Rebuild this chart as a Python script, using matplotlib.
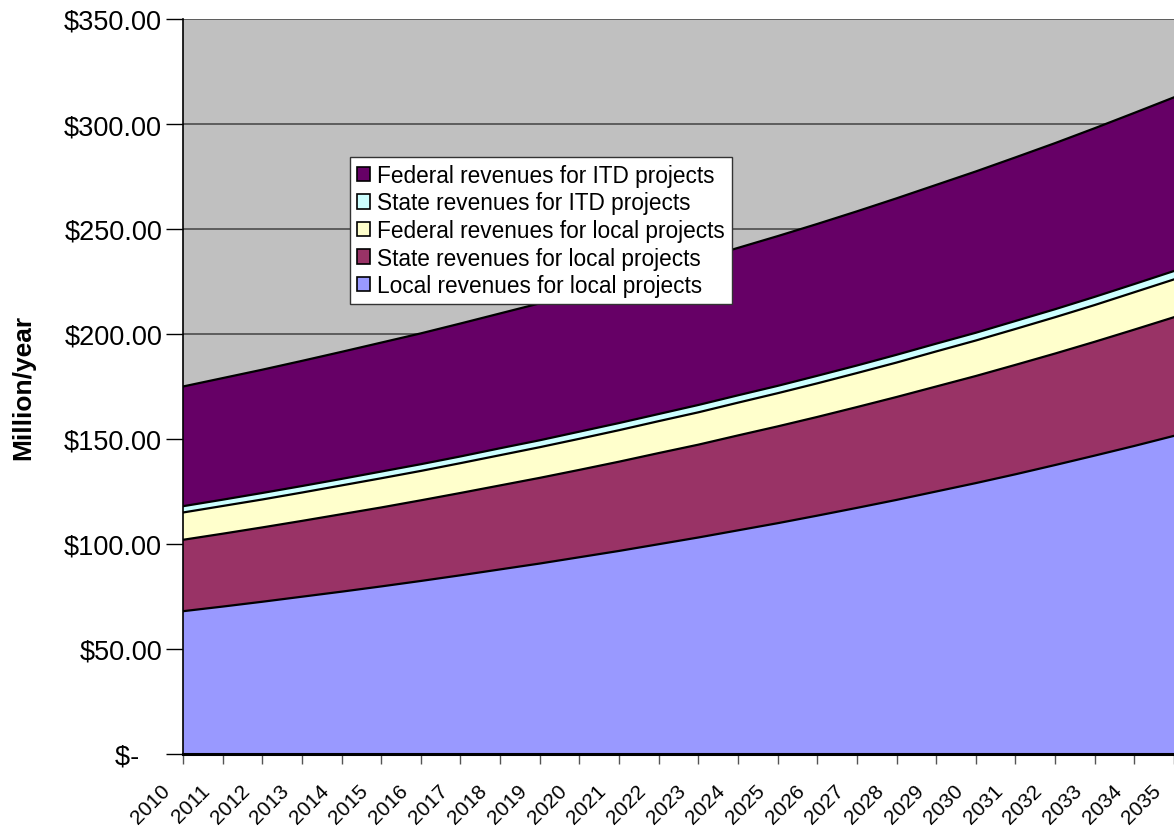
import numpy as np
import matplotlib
matplotlib.use("Agg")
import matplotlib.pyplot as plt
import matplotlib.transforms as mtransforms
from matplotlib.patches import Patch
from matplotlib.ticker import FuncFormatter

plt.rcParams['font.family'] = ['Liberation Sans', 'DejaVu Sans']

years = list(range(2010, 2036))

# million $/year
local_local = [68.0, 70.2, 72.5, 74.9, 77.3, 79.8, 82.4, 85.1, 87.9, 90.7,
               93.7, 96.7, 99.9, 103.1, 106.5, 109.9, 113.5, 117.2, 121.0, 125.0,
               129.0, 133.2, 137.6, 142.1, 146.7, 151.5]
state_local = [34.0, 34.7, 35.4, 36.1, 36.9, 37.6, 38.4, 39.2, 40.0, 40.8,
               41.6, 42.5, 43.4, 44.2, 45.2, 46.1, 47.0, 48.0, 49.0, 50.0,
               51.0, 52.1, 53.1, 54.2, 55.4, 56.5]
federal_local = [13.0, 13.2, 13.3, 13.5, 13.7, 13.9, 14.0, 14.2, 14.4, 14.6,
                 14.8, 15.0, 15.2, 15.4, 15.6, 15.8, 16.0, 16.2, 16.4, 16.7,
                 16.9, 17.1, 17.3, 17.5, 17.8, 18.0]
state_itd = [3.0, 3.0, 3.1, 3.1, 3.1, 3.2, 3.2, 3.2, 3.3, 3.3,
             3.4, 3.4, 3.4, 3.5, 3.5, 3.5, 3.6, 3.6, 3.7, 3.7,
             3.7, 3.8, 3.8, 3.9, 3.9, 4.0]
federal_itd = [57.0, 57.9, 58.7, 59.6, 60.5, 61.4, 62.3, 63.3, 64.2, 65.2,
               66.2, 67.1, 68.2, 69.2, 70.2, 71.3, 72.3, 73.4, 74.5, 75.6,
               76.8, 77.9, 79.1, 80.3, 81.5, 82.7]

labels = ["Local revenues for local projects", "State revenues for local projects",
          "Federal revenues for local projects", "State revenues for ITD projects",
          "Federal revenues for ITD projects"]
colors = ["#9999FF", "#993366", "#FFFFCC", "#CCFFFF", "#660066"]

fig = plt.figure(figsize=(11.74, 8.29), dpi=100)
ax = fig.add_axes([183 / 1174, 74 / 829, 991 / 1174, 735 / 829])
ax.set_facecolor("#C0C0C0")

series = [local_local, state_local, federal_local, state_itd, federal_itd]
base = np.zeros(len(years))
for vals, col in zip(series, colors):
    top = base + np.array(vals)
    ax.fill_between(years, base, top, facecolor=col, edgecolor="none", zorder=2)
    ax.plot(years, top, color="black", lw=1.6, zorder=3)
    base = top

ax.set_xlim(2010, 2035)
ax.set_ylim(0, 350)
ax.set_yticks(np.arange(0, 351, 50))
# accounting style: zero label padded on the right
ax.yaxis.set_major_formatter(FuncFormatter(lambda v, p: "$-   " if v == 0 else f"${v:,.2f}"))
ax.grid(axis="y", color="#555555", lw=1.3, zorder=1)
ax.set_axisbelow(True)
ax.set_xticks(years)
ax.set_xticklabels([str(y) for y in years], rotation=45, ha="right", va="top")
ax.tick_params(axis="y", labelsize=19.5, length=12, width=1, direction="out", pad=3)
ax.tick_params(axis="x", labelsize=15, length=7, width=1, direction="out", pad=12, color="#555555")
shift = mtransforms.ScaledTranslation(-9 / 100, 0, fig.dpi_scale_trans)
for lab in ax.get_xticklabels():
    lab.set_transform(lab.get_transform() + shift)
ax.spines["top"].set_visible(False)
ax.spines["right"].set_visible(False)
ax.spines["left"].set_linewidth(1.2)
ax.spines["bottom"].set_linewidth(2.2)
ax.set_ylabel("Million/year", fontsize=19, fontweight="bold")
ax.yaxis.set_label_coords((35 - 183) / 991, 0.5)

handles = [Patch(facecolor=c, edgecolor="black", lw=1.2) for c in colors]
leg = ax.legend(handles[::-1], labels[::-1], loc="upper left", bbox_to_anchor=(0.1685, 0.812),
                fontsize=16.3, frameon=True, fancybox=False, framealpha=1, edgecolor="#333333",
                handlelength=0.6, handleheight=0.6, handletextpad=0.3, labelspacing=0.2,
                borderpad=0.3, borderaxespad=0)
leg.get_frame().set_linewidth(1.0)
leg.set_zorder(5)

fig.savefig("out.png", dpi=100)
